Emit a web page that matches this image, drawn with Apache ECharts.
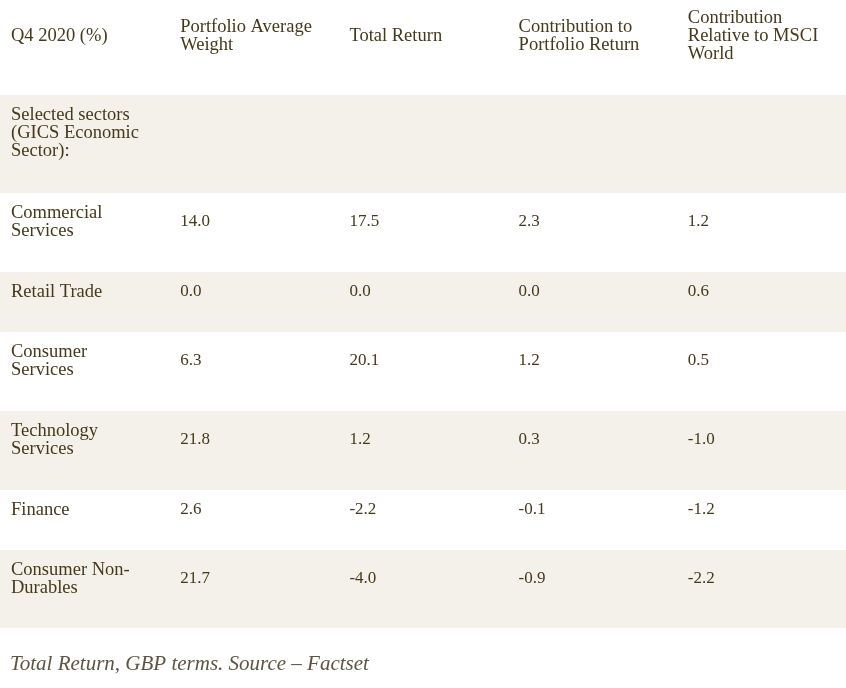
<!DOCTYPE html>
<html>
<head>
<meta charset="utf-8">
<script src="https://cdn.jsdelivr.net/npm/echarts@6/dist/echarts.min.js"></script>
<style>
html,body{margin:0;padding:0;background:#fff;}
#main{width:846px;height:688px;}
</style>
</head>
<body>
<div id="main"></div>
<script>
// ---- data ----
const columnHeaders = ['Q4 2020 (%)', 'Portfolio Average\nWeight', 'Total Return', 'Contribution to\nPortfolio Return', 'Contribution\nRelative to MSCI\nWorld'];
const sectors = ['Selected sectors\n(GICS Economic\nSector):', 'Commercial\nServices', 'Retail Trade', 'Consumer\nServices', 'Technology\nServices', 'Finance', 'Consumer Non-\nDurables'];
const portfolioWeight = [null, 14.0, 0.0, 6.3, 21.8, 2.6, 21.7];
const totalReturn = [null, 17.5, 0.0, 20.1, 1.2, -2.2, -4.0];
const contribution = [null, 2.3, 0.0, 1.2, 0.3, -0.1, -0.9];
const relativeToMSCI = [null, 1.2, 0.6, 0.5, -1.0, -1.2, -2.2];
const footnote = 'Total Return, GBP terms. Source \u2013 Factset';

// ---- layout (not data) ----
const rowEdges = [0, 95, 193, 272, 332, 411, 490, 550, 628];
const TEXT = '#45391c';
const STRIPE = '#f4f1ea';
const LABEL_FONT = 18.5;
const NUM_FONT = 17;
const LINE_H = 18;

const valueCols = [portfolioWeight, totalReturn, contribution, relativeToMSCI];
const nLines = s => s.split('\n').length;

// rows: 0 = header, 1.. = sectors
const rowCount = sectors.length + 1;
const rowLines = [];
for (let r = 0; r < rowCount; r++) {
  if (r === 0) rowLines.push(Math.max(...columnHeaders.map(nLines)));
  else rowLines.push(nLines(sectors[r - 1]));
}
function rowCenter(r) {
  const pad = r === 0 ? 9 : 11;
  return rowEdges[r] + pad + rowLines[r] * LINE_H / 2;
}

// cell data: [col, row, text, isNumber]
const cells = [];
columnHeaders.forEach((h, c) => cells.push([c, 0, h, 0]));
sectors.forEach((s, i) => {
  cells.push([0, i + 1, s, 0]);
  valueCols.forEach((arr, c) => {
    if (arr[i] !== null) cells.push([c + 1, i + 1, arr[i].toFixed(1), 1]);
  });
});
const bands = [];
for (let r = 0; r < rowCount; r++) bands.push([r]);

const chart = echarts.init(document.getElementById('main'), null, {renderer: 'canvas'});
chart.setOption({
  backgroundColor: '#ffffff',
  animation: false,
  grid: {left: 0, right: 0, top: 0, bottom: 0},
  xAxis: {type: 'category', data: columnHeaders, boundaryGap: true, show: false},
  yAxis: {type: 'value', min: 0, max: 688, inverse: true, show: false},
  series: [
    {
      type: 'custom',
      data: bands,
      silent: true,
      renderItem: function (params, api) {
        const r = api.value(0);
        if (r % 2 === 0) return null;
        const cs = params.coordSys;
        const y0 = api.coord([0, rowEdges[r]])[1];
        const y1 = api.coord([0, rowEdges[r + 1]])[1];
        return {type: 'rect', shape: {x: cs.x, y: y0, width: cs.width, height: y1 - y0}, style: {fill: STRIPE}};
      },
      encode: {x: -1, y: -1},
      z: 1
    },
    {
      type: 'custom',
      data: cells,
      silent: true,
      renderItem: function (params, api) {
        const c = api.value(0);
        const r = api.value(1);
        const item = cells[params.dataIndex];
        const bw = api.size([1, 0])[0];
        const cx = api.coord([c, 0])[0];
        const y = api.coord([0, rowCenter(r)])[1];
        const isNum = item[3] === 1;
        return {
          type: 'text',
          style: {
            text: item[2],
            x: cx - bw / 2 + 11,
            y: y,
            fill: TEXT,
            fontFamily: '"Liberation Serif", serif',
            fontSize: isNum ? NUM_FONT : LABEL_FONT,
            lineHeight: LINE_H,
            textAlign: 'left',
            textVerticalAlign: 'middle'
          }
        };
      },
      encode: {x: 0, y: 1},
      z: 2
    }
  ],
  graphic: [{
    type: 'text',
    left: 10,
    top: 654,
    style: {
      text: footnote,
      fill: '#5e5443',
      fontFamily: '"Liberation Serif", serif',
      fontStyle: 'italic',
      fontSize: 21
    }
  }]
});
</script>
</body>
</html>
